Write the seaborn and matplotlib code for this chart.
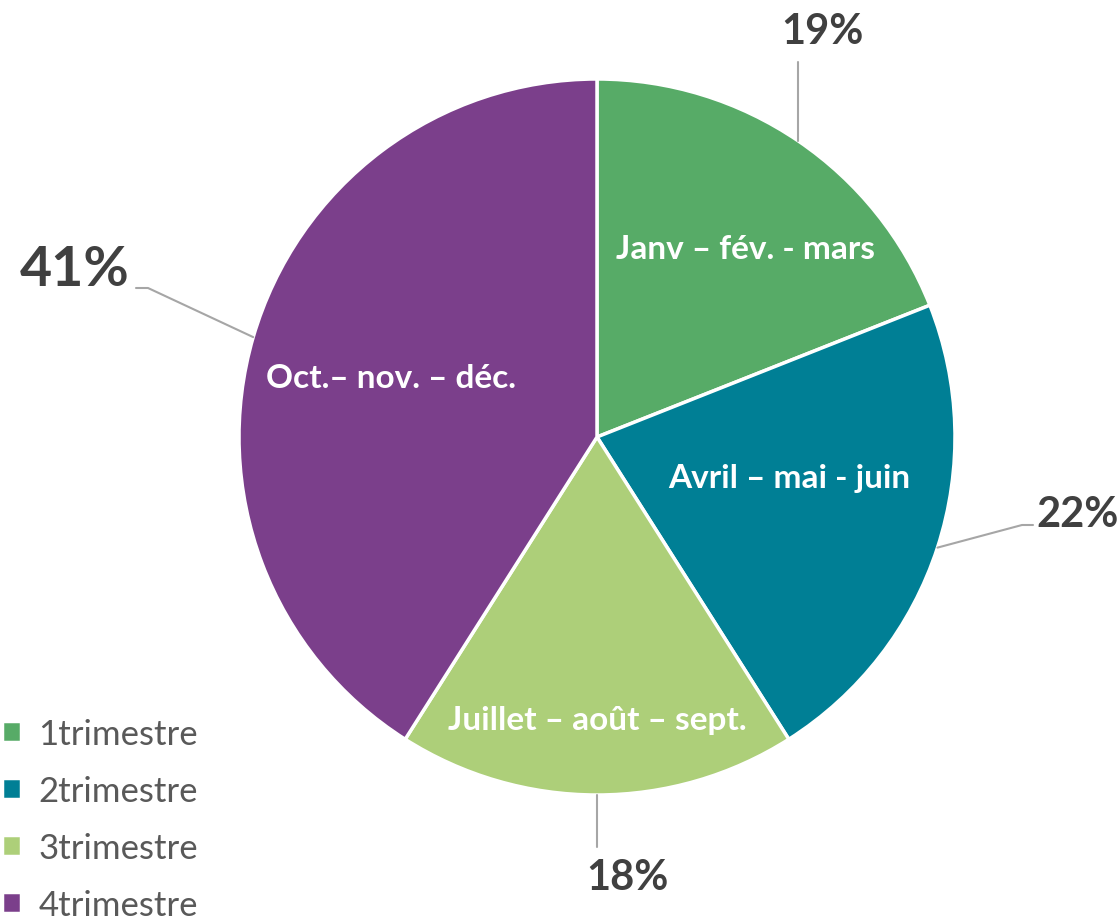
import matplotlib
matplotlib.use("Agg")
import matplotlib.pyplot as plt
import numpy as np
import seaborn as sns

# data
quarters = ["1trimestre", "2trimestre", "3trimestre", "4trimestre"]
months = ["Janv – fév. - mars", "Avril – mai - juin",
          "Juillet – août – sept.", "Oct.– nov. – déc."]
shares = [19, 22, 18, 41]
colors = ["#57AB67", "#007F95", "#ADCF79", "#7B3F8B"]

sns.set_theme(style="white")
plt.rcParams["font.family"] = ["Lato", "DejaVu Sans"]

W, H = 1117, 920
fig = plt.figure(figsize=(W / 100, H / 100), dpi=100)
ax = fig.add_axes([0, 0, 1, 1])

cx, cy, R = 597, H - 438, 358
wedges, _ = ax.pie(shares, colors=colors, startangle=90, counterclock=False,
                   center=(cx, cy), radius=R, frame=True,
                   wedgeprops=dict(edgecolor="white", linewidth=2.5))
ax.set_xlim(0, W)
ax.set_ylim(0, H)
ax.set_aspect("equal")
ax.axis("off")

# inner month labels (radius fraction, angle offset from mid)
inner = [(0.67, -4), (0.55, 6), (0.79, 0), (0.60, 0)]
for w, txt, (rf, da) in zip(wedges, months, inner):
    mid = np.deg2rad((w.theta1 + w.theta2) / 2 + da)
    ax.text(cx + rf * R * np.cos(mid), cy + rf * R * np.sin(mid), txt,
            ha="center", va="center", color="white", fontsize=24,
            fontweight="bold")

# outer percentage labels with leader lines
# (elbow x, elbow y, end x, text x, text y, ha, size)
outer = [
    (None, H - 63, None, 822, H - 32, "center", 30),
    (1022, H - 526, 1033, 1036, H - 515, "left", 30),
    (None, H - 848, None, 627, H - 878, "center", 30),
    (148, H - 289, 136, 130, H - 270, "right", 40),
]
for w, pct, (ex, ey, endx, tx, ty, ha, fs) in zip(wedges, shares, outer):
    mid = np.deg2rad((w.theta1 + w.theta2) / 2)
    px, py = cx + R * np.cos(mid), cy + R * np.sin(mid)
    if ex is None:
        ax.plot([px, px], [py, ey], color="#A6A6A6", lw=1.5)
    else:
        ax.plot([px, ex, endx], [py, ey, ey], color="#A6A6A6", lw=1.5)
    ax.text(tx, ty, f"{pct}%", ha=ha, va="center", color="#404040",
            fontsize=fs, fontweight="bold")

leg = ax.legend(wedges, quarters, loc="lower left", bbox_to_anchor=(0.0, -0.004),
                frameon=False, fontsize=25, handlelength=0.55, handleheight=0.55,
                handletextpad=0.5, labelspacing=0.72, borderaxespad=0.05,
                borderpad=0.0)
for t in leg.get_texts():
    t.set_color("#595959")

fig.savefig("out.png", dpi=100)
